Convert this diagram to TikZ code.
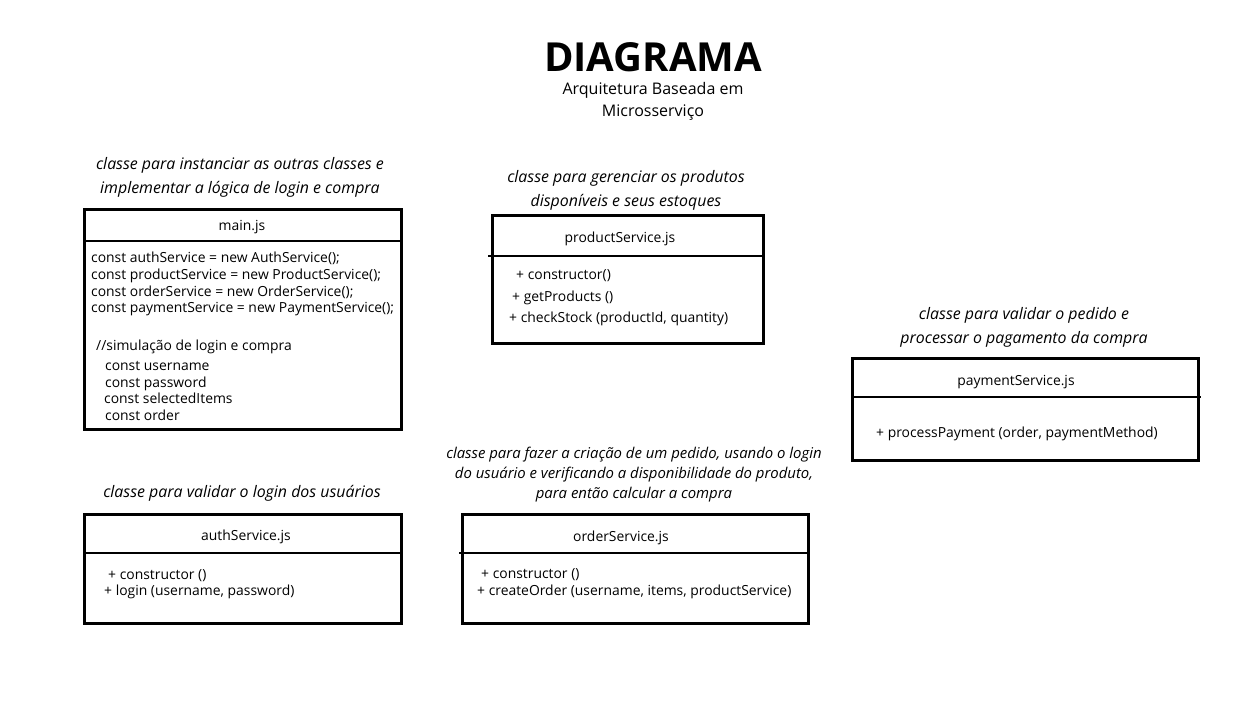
\documentclass[tikz,border=0pt]{standalone}
\usepackage{fontspec}
\setmainfont{Open Sans}
\begin{document}
\begin{tikzpicture}[x=1pt,y=-1pt,
  box/.style={draw=black,line width=3pt,inner sep=0pt},
  divider/.style={draw=black,line width=2.8pt},
  code/.style={anchor=west,inner sep=0pt,font=\fontsize{13.9}{16}\selectfont,text height=1.5ex,text depth=.3ex},
  head/.style={inner sep=0pt,font=\fontsize{13.9}{16}\selectfont,text height=1.5ex,text depth=.3ex},
  caption/.style={inner sep=0pt,align=center,font=\fontsize{15.9}{24}\selectfont\itshape},
  captionb/.style={inner sep=0pt,align=center,font=\fontsize{14.9}{20}\selectfont\itshape}]
\useasboundingbox[fill=white] (0,0) rectangle (1252,703);

% title
\node[inner sep=0pt,font=\fontsize{40}{42}\selectfont\bfseries] (title) at (653,57) {DIAGRAMA};
\node[inner sep=0pt,align=center,font=\fontsize{16}{22}\selectfont] (subtitle) at (653,101) {Arquitetura Baseada em\\Microsserviço};

% main.js
\node[caption] (capmain) at (240,177) {classe para instanciar as outras classes e\\implementar a lógica de login e compra};
\draw[box] (84,210) rectangle (401,429);
\draw[divider] (84,241) -- (401,241);
\node[head] (mainh) at (242,227) {main.js};
\node[code] (m1) at (91,259) {const authService = new AuthService();};
\node[code] (m2) at (91,276) {const productService = new ProductService();};
\node[code] (m3) at (91,293) {const orderService = new OrderService();};
\node[code] (m4) at (91,309) {const paymentService = new PaymentService();};
\node[code] (m5) at (96,347) {//simulação de login e compra};
\node[code] (m6) at (105,367) {const username};
\node[code] (m7) at (105,384) {const password};
\node[code] (m8) at (104,400) {const selectedItems};
\node[code] (m9) at (105,417) {const order};

% productService.js
\node[caption] (capprod) at (626,190) {classe para gerenciar os produtos\\disponíveis e seus estoques};
\draw[box] (492,216) rectangle (763,343);
\draw[divider] (488,256) -- (763,256);
\node[head] (prodh) at (620,239) {productService.js};
\node[code] (p1) at (516,276) {+ constructor()};
\node[code] (p2) at (512,298) {+ getProducts ()};
\node[code] (p3) at (509,319) {+ checkStock (productId, quantity)};

% paymentService.js
\node[caption] (cappay) at (1024,327) {classe para validar o pedido e\\processar o pagamento da compra};
\draw[box] (852,358) rectangle (1198,460);
\draw[divider] (852,397) -- (1201,397);
\node[head] (payh) at (1016,382) {paymentService.js};
\node[code] (y1) at (876,434) {+ processPayment (order, paymentMethod)};

% orderService.js
\node[captionb] (caporder) at (634,475) {classe para fazer a criação de um pedido, usando o login\\do usuário e verificando a disponibilidade do produto,\\para então calcular a compra};
\draw[box] (462,514) rectangle (808,623);
\draw[divider] (459,553) -- (808,553);
\node[head] (orderh) at (621,538) {orderService.js};
\node[code] (o1) at (481,575) {+ constructor ()};
\node[code] (o2) at (477,592) {+ createOrder (username, items, productService)};

% authService.js
\node[caption] (capauth) at (242,493) {classe para validar o login dos usuários};
\draw[box] (84,514) rectangle (401,623);
\draw[divider] (84,553) -- (401,553);
\node[head] (authh) at (246,537) {authService.js};
\node[code] (a1) at (108,576) {+ constructor ()};
\node[code] (a2) at (104,592) {+ login (username, password)};
\end{tikzpicture}
\end{document}
